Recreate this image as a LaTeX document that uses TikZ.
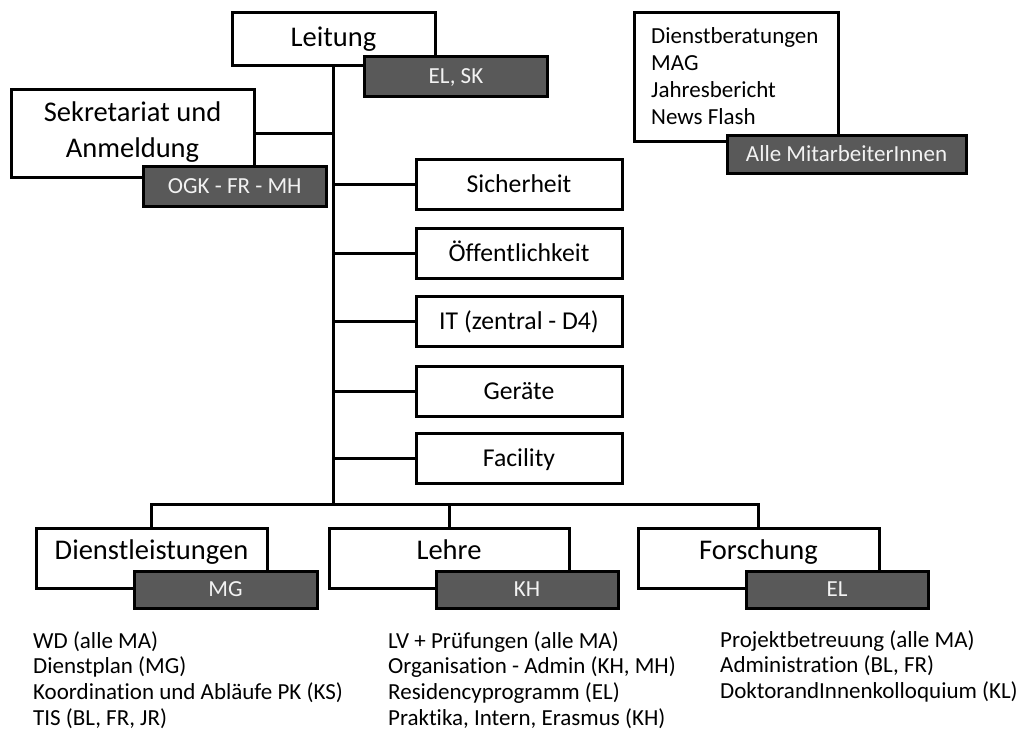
\documentclass[tikz,border=0pt]{standalone}
\usepackage{fontspec}
\setmainfont{Carlito}[Ligatures=NoCommon]
\definecolor{darkfill}{HTML}{595959}
\definecolor{lightfg}{HTML}{F2F2F2}
\begin{document}
\begin{tikzpicture}[x=1pt,y=-1pt,
  wire/.style={draw=black, line width=3pt},
  whitebox/.style={draw=black, line width=3pt, fill=white, inner sep=0pt},
  darkbox/.style={draw=black, line width=3pt, fill=darkfill, text=lightfg, inner sep=0pt,
    font=\fontsize{23}{27}\selectfont, text height=14.8pt, text depth=0pt},
  midbox/.style={whitebox, minimum width=206pt, minimum height=50pt,
    font=\fontsize{25.7}{30}\selectfont, text height=16.55pt, text depth=0pt},
  headtext/.style={anchor=base, inner sep=0pt, font=\fontsize{28.5}{36}\selectfont},
  listtext/.style={anchor=base west, inner sep=0pt, font=\fontsize{23}{25.7}\selectfont}]
\useasboundingbox (0,0) rectangle (1021,732);

% white boxes (empty shapes, texts placed separately where off-centre)
\node[whitebox, minimum width=203pt, minimum height=52.5pt] (lt) at (333.5,39) {};
\node[whitebox, minimum width=243pt, minimum height=88.5pt] (sek) at (132.5,133.25) {};
\node[whitebox, minimum width=204pt, minimum height=129pt] (info) at (736,76.5) {};
\node[whitebox, minimum width=231pt, minimum height=60pt] (dl) at (151.5,558) {};
\node[whitebox, minimum width=240pt, minimum height=60pt] (le) at (449,558) {};
\node[whitebox, minimum width=241pt, minimum height=60pt] (fo) at (758.5,558) {};

% connectors
\coordinate (jb) at (333.5,504);
\draw[wire] (lt.south) -- (jb);
\draw[wire] (sek.east) -- (sek.east -| lt.south);
\draw[wire] (dl.north) |- (jb) -| (fo.north);
\draw[wire] (le.north) -- (le.north |- jb);

% middle boxes
\node[midbox] (s1) at (519,184) {Sicherheit};
\node[midbox] (s2) at (519,253) {Öffentlichkeit};
\node[midbox] (s3) at (519,321) {IT (zentral - D4)};
\node[midbox] (s4) at (519,391) {Geräte};
\node[midbox] (s5) at (519,458) {Facility};
\foreach \n in {s1,s2,s3,s4,s5}
  \draw[wire] (\n.west) -- (\n.west -| lt.south);

% dark label boxes
\node[darkbox, minimum width=182.5pt, minimum height=40pt] (elsk) at (456,76) {EL, SK};
\node[darkbox, minimum width=182.5pt, minimum height=40pt] (ogk) at (234.75,186) {OGK - FR - MH};
\node[darkbox, minimum width=239pt, minimum height=38pt] (alle) at (846.5,154) {Alle MitarbeiterInnen};
\node[darkbox, minimum width=183pt, minimum height=37pt] (mg) at (225.5,589.5) {MG};
\node[darkbox, minimum width=182pt, minimum height=37pt] (kh) at (527,589.5) {KH};
\node[darkbox, minimum width=182pt, minimum height=37pt] (el) at (837,589.5) {EL};

% header texts
\node[headtext] (ltt) at (333.5,46) {Leitung};
\node[headtext] (sekt) at (132.5,121) {\begin{tabular}[t]{@{}c@{}}Sekretariat und\\Anmeldung\end{tabular}};
\node[headtext] (dlt) at (151.5,559) {Dienstleistungen};
\node[headtext] (let) at (449,559) {Lehre};
\node[headtext] (fot) at (758.5,559) {Forschung};

% info list
\node[anchor=base west, inner sep=0pt, font=\fontsize{23}{27}\selectfont] (infot) at (651,43)
  {\begin{tabular}[t]{@{}l@{}}Dienstberatungen\\MAG\\Jahresbericht\\News Flash\end{tabular}};

% bottom lists
\node[listtext] (dll) at (33,648)
  {\begin{tabular}[t]{@{}l@{}}WD (alle MA)\\Dienstplan (MG)\\Koordination und Abläufe PK (KS)\\TIS (BL, FR, JR)\end{tabular}};
\node[listtext] (lel) at (388,648)
  {\begin{tabular}[t]{@{}l@{}}LV + Prüfungen (alle MA)\\Organisation - Admin (KH, MH)\\Residencyprogramm (EL)\\Praktika, Intern, Erasmus (KH)\end{tabular}};
\node[listtext] (fol) at (720,647)
  {\begin{tabular}[t]{@{}l@{}}Projektbetreuung (alle MA)\\Administration (BL, FR)\\DoktorandInnenkolloquium (KL)\end{tabular}};
\end{tikzpicture}
\end{document}
